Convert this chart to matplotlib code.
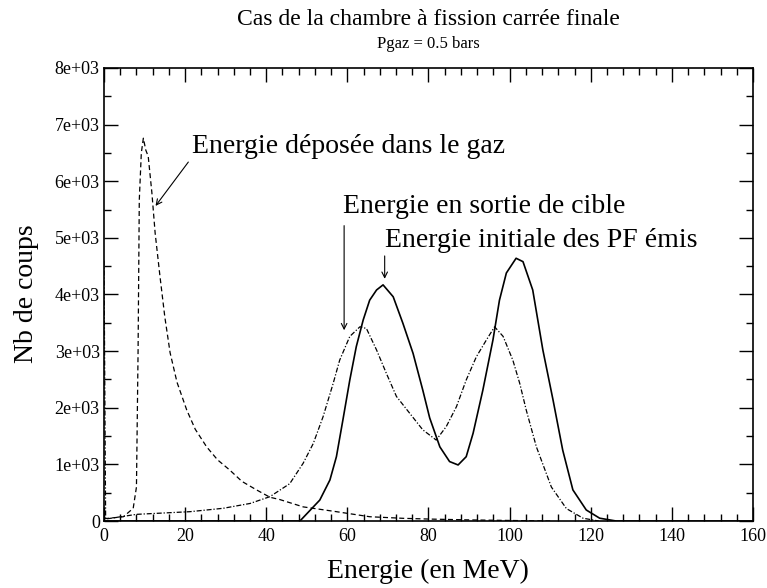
import numpy as np
import matplotlib
matplotlib.use("Agg")
import matplotlib.pyplot as plt
from matplotlib.ticker import MultipleLocator

plt.rcParams['font.family'] = ['Liberation Serif', 'DejaVu Serif']

# Energie deposee dans le gaz (dashed)
gaz_e = [0, 2, 4.8, 7.2, 8.0, 8.4, 8.7, 9.2, 9.7, 10.3, 10.9, 11.8, 12.6, 13.8, 15.0, 16.3,
         18.0, 20.4, 22.5, 25.3, 28.0, 31.0, 34.0, 37.6, 40.9, 43.3, 49.1, 57.3, 65.5,
         73.7, 80, 90, 100, 110]
gaz_n = [40, 55, 76, 225, 600, 3000, 5670, 6500, 6760, 6550, 6440, 5800, 5090, 4320, 3600,
         2970, 2450, 1960, 1620, 1310, 1080, 900, 700, 550, 420, 380, 250, 165, 76,
         48, 35, 20, 10, 0]

# Energie en sortie de cible (dash-dot)
cible_e = [0, 0.4, 8.0, 21.2, 29.4, 36.0, 40.9, 45.8, 49.1, 51.6, 54.0, 56.5, 58.1, 60.6,
           63.1, 64.7, 67.2, 69.6, 72.1, 75.4, 78.6, 81.9, 84.4, 86.9, 89.3, 91.8, 94.3,
           96.3, 98.4, 100.8, 102.5, 104.1, 106.6, 110.3, 114.0, 118.1, 122]
cible_n = [4600, 35, 118, 165, 225, 310, 430, 660, 1020, 1370, 1840, 2430, 2840, 3260,
           3430, 3400, 3020, 2610, 2200, 1900, 1610, 1430, 1670, 2020, 2490, 2900, 3200,
           3430, 3260, 2840, 2430, 1960, 1310, 600, 220, 50, 0]

# Energie initiale des PF emis (solid)
init_e = [0, 48.3, 53.2, 55.7, 57.3, 58.9, 60.6, 62.2, 63.9, 65.5, 67.2, 68.8, 71.3, 73.7,
          76.2, 78.6, 80.3, 82.8, 85.2, 87.3, 89.3, 91.0, 93.4, 95.9, 97.5, 99.2, 101.6,
          103.3, 105.7, 108.2, 110.7, 113.1, 115.6, 118.9, 122.2, 126.3, 160]
init_n = [0, 0, 370, 725, 1136, 1785, 2490, 3080, 3550, 3900, 4080, 4170, 3960, 3490,
          2960, 2310, 1820, 1310, 1050, 990, 1136, 1550, 2310, 3200, 3900, 4380, 4640,
          4580, 4080, 3020, 2140, 1250, 550, 195, 50, 0, 0]

x_ticks = [0, 20, 40, 60, 80, 100, 120, 140, 160]
y_ticks = [0, 1000, 2000, 3000, 4000, 5000, 6000, 7000, 8000]
y_ticklabels = ['0', '1e+03', '2e+03', '3e+03', '4e+03', '5e+03', '6e+03', '7e+03', '8e+03']

fig = plt.figure(figsize=(7.67, 5.88), dpi=100)
ax = fig.add_axes([0.1356, 0.1139, 0.8461, 0.7705])

ax.plot(gaz_e, gaz_n, color='black', lw=0.9, dashes=(4, 2.5))
ax.plot(cible_e, cible_n, color='black', lw=0.9, dashes=(4, 1.5, 1, 1.5))
ax.plot(init_e, init_n, color='black', lw=1.2)

ax.set_xlim(0, 160)
ax.set_ylim(0, 8000)
ax.set_xticks(x_ticks)
ax.set_yticks(y_ticks)
ax.set_yticklabels(y_ticklabels)
ax.xaxis.set_minor_locator(MultipleLocator(4))
ax.yaxis.set_minor_locator(MultipleLocator(500))
ax.tick_params(which='both', direction='in', top=True, right=True, labelsize=13, width=1)
ax.tick_params(which='major', length=10)
ax.tick_params(which='minor', length=5)
ax.tick_params(axis='x', pad=5)
ax.tick_params(axis='y', pad=3)
for s in ax.spines.values():
    s.set_linewidth(1.2)

# annotations
arrow = dict(arrowstyle='->', color='black', lw=0.8)
ax.annotate('', xy=(12.3, 5525), xytext=(21.2, 6378), arrowprops=arrow)
ax.text(21.7, 6608, 'Energie déposée dans le gaz', fontsize=20, va='center', ha='left')
ax.annotate('', xy=(59.2, 3320), xytext=(59.2, 5265), arrowprops=arrow)
ax.text(58.9, 5548, 'Energie en sortie de cible', fontsize=20, va='center', ha='left')
ax.annotate('', xy=(69.2, 4228), xytext=(69.2, 4730), arrowprops=arrow)
ax.text(69.2, 4947, 'Energie initiale des PF émis', fontsize=20, va='center', ha='left')

fig.text(0.558, 0.966, 'Cas de la chambre à fission carrée finale', fontsize=17,
         ha='center', va='center')
fig.text(0.558, 0.926, 'Pgaz = 0.5 bars', fontsize=12, ha='center', va='center')
fig.text(0.558, 0.029, 'Energie (en MeV)', fontsize=20, ha='center', va='center')
fig.text(0.035, 0.5, 'Nb de coups', fontsize=20, ha='center', va='center', rotation=90)

fig.savefig('out.png', dpi=100)
